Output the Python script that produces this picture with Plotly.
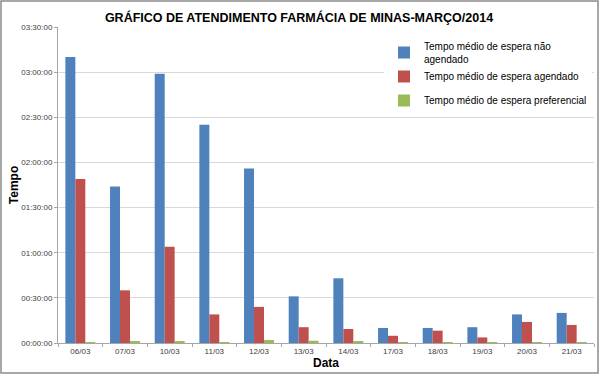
import plotly.graph_objects as go

datas = ["06/03", "07/03", "10/03", "11/03", "12/03", "13/03", "14/03",
         "17/03", "18/03", "19/03", "20/03", "21/03"]
# values in minutes
nao_agendado = [190, 104, 179, 145, 116, 31, 43, 10, 10, 10.5, 19, 20]
agendado = [109, 35, 64, 19, 24, 10.5, 9.3, 4.8, 8.2, 3.7, 14, 12]
preferencial = [0.5, 1.3, 1.0, 0.5, 2.0, 1.5, 1.0, 0.3, 0.3, 0.2, 0.5, 0.5]

tick_vals = [0, 30, 60, 90, 120, 150, 180, 210]
tick_text = ["00:00:00", "00:30:00", "01:00:00", "01:30:00",
             "02:00:00", "02:30:00", "03:00:00", "03:30:00"]

names = ["Tempo médio de espera não<br>agendado",
         "Tempo médio de espera agendado",
         "Tempo médio de espera preferencial"]
colors = ["#4F81BD", "#C0504D", "#9BBB59"]

fig = go.Figure()
for vals, name, color, grp in zip([nao_agendado, agendado, preferencial], names, colors, ["a", "a", "b"]):
    fig.add_trace(go.Bar(x=datas, y=vals, name=name, marker_color=color,
                         marker_line_width=0, legendgroup=grp))

L, R, T, B = 58, 6, 27, 32
W, H = 600, 375
pw, ph = W - L - R, H - T - B

fig.update_layout(
    width=W, height=H,
    margin=dict(l=L, r=R, t=T, b=B, autoexpand=False),
    paper_bgcolor="white", plot_bgcolor="white",
    font=dict(family="Liberation Sans, Arial, sans-serif", color="#404040"),
    title=dict(text="<b>GRÁFICO DE ATENDIMENTO FARMÁCIA DE MINAS-MARÇO/2014</b>",
               x=(299 - L) / pw, xref="paper", xanchor="center", y=1 - 18 / H, yanchor="middle",
               font=dict(size=12.5, color="black")),
    barmode="group", bargap=0.33, bargroupgap=0,
    showlegend=True,
    legend=dict(x=(384 - L) / pw, y=(343 - 33) / ph, xanchor="left", yanchor="top",
                bgcolor="white", font=dict(size=10, color="black"),
                traceorder="grouped", tracegroupgap=5, itemwidth=30),
    xaxis=dict(title=dict(text="<b>Data</b>", font=dict(size=12, color="black"), standoff=0),
               automargin=False,
               showline=True, linecolor="#A6A6A6", linewidth=1,
               ticks="outside", ticklen=3, tickcolor="#A6A6A6",
               tickson="boundaries", tickfont=dict(size=8, color="#404040"),
               showgrid=False),
    yaxis=dict(title=dict(text="<b>Tempo</b>", font=dict(size=12, color="black"), standoff=0),
               automargin=False,
               range=[0, 210], tickvals=tick_vals, ticktext=tick_text,
               tickfont=dict(size=8, color="#404040"),
               showgrid=True, gridcolor="#D9D9D9", gridwidth=1,
               showline=True, linecolor="#A6A6A6", linewidth=1,
               ticks="outside", ticklen=3, tickcolor="#A6A6A6",
               zeroline=False),
    shapes=[dict(type="rect", xref="paper", yref="paper",
                 x0=-(L - 1) / pw, x1=1 + (R - 2) / pw,
                 y0=-(B - 2) / ph, y1=1 + (T - 1) / ph,
                 line=dict(color="#8C8C8C", width=1.5), fillcolor="rgba(0,0,0,0)")],
)

fig.write_html("out.html", config={"displayModeBar": False},
               post_script="document.body.style.margin='0';")
